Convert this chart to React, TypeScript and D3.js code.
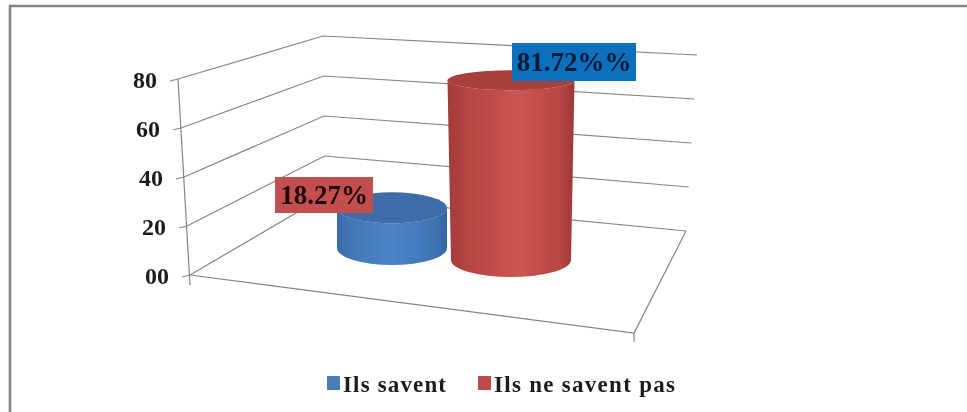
import * as d3 from "d3";

const categories = ["Ils savent", "Ils ne savent pas"];
const values = [18.27, 81.72];
const dataLabels = ["18.27%", "81.72%%"];
const tickValues = [0, 20, 40, 60, 80];
const tickLabels = ["00", "20", "40", "60", "80"];

const width = 967;
const height = 412;
const serif = "'Liberation Serif', serif";
const gridColor = "#858585";

// Each edge of the 3D box is a scale from value to a pixel position
const edge = (x0: number, y0: number, x1: number, y1: number) => ({
  x: d3.scaleLinear().domain([0, 80]).range([x0, x1]),
  y: d3.scaleLinear().domain([0, 80]).range([y0, y1]),
});
const frontLeft = edge(190, 275, 178, 79);
const backLeft = edge(325, 196, 323, 36);
const backRight = edge(686, 231, 697, 55);
const frontRight = { x: 634, y: 333 };

// Bars stand on the floor, the top ellipse gets flatter the higher it sits
const barHeight = d3.scaleLinear().domain([0, 100]).range([0, 220]);
const ryScale = d3.scaleLinear().domain([0, 81.72]).range([17, 10]);
const bars = [
  { cx: 392, baseY: 248, rx0: 55, rx1: 55, fill: "blue" },
  { cx: 511, baseY: 260, rx0: 60, rx1: 63.5, fill: "red" },
];

const labelBoxes = [
  { x: 275, y: 177, w: 98, h: 36, fill: "#c0504d", color: "#220508", size: 27 },
  { x: 512, y: 43, w: 124, h: 38, fill: "#0b70bd", color: "#041a36", size: 27 },
];

const legendItems = [
  { x: 327, color: "#4a7ebb", textWidth: 103 },
  { x: 478, color: "#be4b48", textWidth: 181 },
];

function barPath(cx: number, baseY: number, topY: number, rx0: number, rx1: number, ry0: number, ry1: number) {
  return (
    `M${cx - rx1},${topY}` +
    `L${cx - rx0},${baseY}` +
    `A${rx0},${ry0} 0 0 0 ${cx + rx0},${baseY}` +
    `L${cx + rx1},${topY}` +
    `A${rx1},${ry1} 0 0 1 ${cx - rx1},${topY}Z`
  );
}

export default function App() {
  const line = d3.line();

  return (
    <svg
      width={width}
      height={height}
      style={{ position: "absolute", left: 0, top: 0, background: "#fff" }}
    >
      <defs>
        <linearGradient id="side-blue" x1="0" x2="1" y1="0" y2="0">
          <stop offset="0" stopColor="#3a6ba6" />
          <stop offset="0.12" stopColor="#4276b5" />
          <stop offset="0.5" stopColor="#4c84c8" />
          <stop offset="0.88" stopColor="#3f74b4" />
          <stop offset="1" stopColor="#37659e" />
        </linearGradient>
        <linearGradient id="side-red" x1="0" x2="1" y1="0" y2="0">
          <stop offset="0" stopColor="#a23c39" />
          <stop offset="0.15" stopColor="#b44542" />
          <stop offset="0.55" stopColor="#cd5552" />
          <stop offset="0.88" stopColor="#b84744" />
          <stop offset="1" stopColor="#9a3835" />
        </linearGradient>
        <filter id="soft" x="-5%" y="-5%" width="110%" height="110%">
          <feGaussianBlur stdDeviation="0.55" />
        </filter>
      </defs>

      <g filter="url(#soft)">
        {/* Outer frame, only top and left are in the picture */}
        <path d={`M10,${height + 5}V6H${width + 5}`} fill="none" stroke="#858585" strokeWidth={2.6} />

        {/* Walls */}
        <g fill="none" stroke={gridColor} strokeWidth={1.2}>
          {tickValues.map((v) => (
            <path
              key={v}
              d={
                line([
                  [frontLeft.x(v), frontLeft.y(v)],
                  [backLeft.x(v), backLeft.y(v)],
                  [backRight.x(v), backRight.y(v)],
                ]) ?? ""
              }
            />
          ))}
          {/* Value axis with its ticks */}
          <path
            d={
              line([
                [frontLeft.x(80), frontLeft.y(80)],
                [frontLeft.x(0), frontLeft.y(0) + 10],
              ]) ?? ""
            }
          />
          {tickValues.map((v) => (
            <path
              key={v}
              d={
                line([
                  [frontLeft.x(v) - 8, frontLeft.y(v) + 2],
                  [frontLeft.x(v), frontLeft.y(v)],
                ]) ?? ""
              }
            />
          ))}
          {/* Floor */}
          <path
            d={
              line([
                [frontLeft.x(0), frontLeft.y(0)],
                [frontRight.x, frontRight.y],
                [backRight.x(0), backRight.y(0)],
              ]) ?? ""
            }
          />
          <path d={line([[frontRight.x, frontRight.y], [frontRight.x, frontRight.y + 9]]) ?? ""} />
        </g>

        {/* Value labels */}
        {tickValues.map((v, i) => (
          <text
            key={v}
            x={frontLeft.x(v) - 21}
            y={frontLeft.y(v) + 9}
            textAnchor="end"
            fontFamily={serif}
            fontWeight="bold"
            fontSize={24}
            fill="#1c1c1c"
          >
            {tickLabels[i]}
          </text>
        ))}

        {/* Cylinders */}
        {values.map((value, i) => {
          const b = bars[i];
          const topY = b.baseY - barHeight(value);
          const ry0 = ryScale(0);
          const ry1 = ryScale(value);
          return (
            <g key={categories[i]}>
              <path
                d={barPath(b.cx, b.baseY, topY, b.rx0, b.rx1, ry0, ry1)}
                fill={`url(#side-${b.fill})`}
              />
              <ellipse
                cx={b.cx}
                cy={topY}
                rx={b.rx1}
                ry={ry1}
                fill={b.fill === "blue" ? "#3c6ca8" : "#a8403c"}
              />
            </g>
          );
        })}

        {/* Data labels */}
        {dataLabels.map((label, i) => {
          const box = labelBoxes[i];
          return (
            <g key={label}>
              <rect x={box.x} y={box.y} width={box.w} height={box.h} fill={box.fill} />
              <text
                x={box.x + box.w / 2}
                y={box.y + box.h / 2 + 9}
                textAnchor="middle"
                fontFamily={serif}
                fontWeight="bold"
                fontSize={box.size}
                fill={box.color}
              >
                {label}
              </text>
            </g>
          );
        })}

        {/* Legend */}
        {categories.map((name, i) => {
          const item = legendItems[i];
          return (
            <g key={name}>
              <rect x={item.x} y={376} width={13} height={14} fill={item.color} />
              <text
                x={item.x + 16}
                y={392}
                fontFamily={serif}
                fontWeight="bold"
                fontSize={23}
                fill="#1c1c1c"
                textLength={item.textWidth}
                lengthAdjust="spacing"
              >
                {name}
              </text>
            </g>
          );
        })}
      </g>
    </svg>
  );
}
